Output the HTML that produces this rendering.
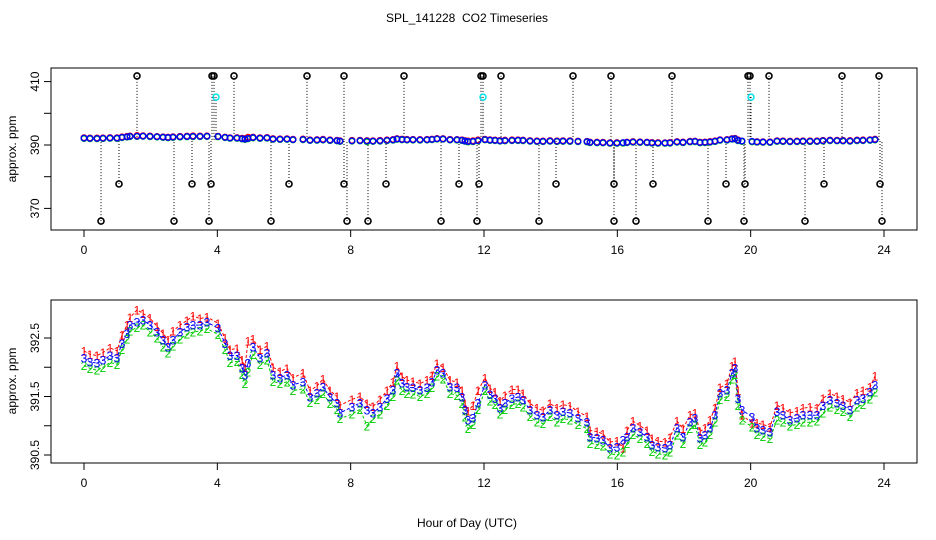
<!DOCTYPE html>
<html><head><meta charset="utf-8"><style>
html,body{margin:0;padding:0;background:#fff;}
svg{display:block;font-family:"Liberation Sans",sans-serif;}
</style></head><body>
<svg id="chart" width="936" height="540" viewBox="0 0 936 540">
<text x="467" y="22" font-size="12" text-anchor="middle">SPL_141228&#160; CO2 Timeseries</text>
<text x="467" y="527" font-size="12" text-anchor="middle">Hour of Day (UTC)</text>
<text transform="translate(16,149) rotate(-90)" font-size="12" text-anchor="middle">approx. ppm</text>
<text transform="translate(16,381) rotate(-90)" font-size="12" text-anchor="middle">approx. ppm</text>
<g id="top"></g>
<g id="bot"></g>
</svg>
<script>
const times=[0.0,0.18,0.39,0.57,0.78,0.99,1.14,1.29,1.38,1.59,1.77,1.98,2.19,2.37,2.52,2.67,2.88,3.09,3.27,3.48,3.69,4.02,4.23,4.38,4.59,4.74,4.83,4.92,5.07,5.28,5.49,5.67,5.88,6.09,6.27,6.57,6.78,6.99,7.17,7.38,7.59,
7.68,8.04,8.28,8.49,8.67,8.88,9.09,9.27,9.39,9.54,9.69,9.87,10.08,10.29,10.44,10.59,10.77,10.98,11.19,11.34,11.43,11.52,11.67,11.82,12.03,12.18,12.33,12.48,12.63,12.84,13.02,13.17,13.38,13.59,13.77,13.98,14.19,14.37,14.58,14.82,15.09,15.18,15.39,15.57,15.78,15.99,16.17,
16.29,16.47,16.68,16.89,17.04,17.22,17.43,17.58,17.79,17.97,18.18,18.33,18.48,18.63,18.78,18.93,19.08,19.29,19.44,19.53,19.62,19.74,20.04,20.19,20.37,20.58,20.79,20.97,21.18,21.39,21.57,21.78,21.99,22.17,22.38,22.59,22.77,22.98,23.19,23.37,23.58,23.73];
const series3=[392.16,392.09,392.07,392.12,392.2,392.16,392.41,392.58,392.72,392.77,392.81,392.72,392.6,392.47,392.35,392.47,392.6,392.69,392.72,392.72,392.77,392.67,392.41,392.2,392.2,391.99,391.87,392.07,392.35,392.16,392.24,391.87,391.82,391.87,391.7,391.75,391.49,391.56,391.66,391.49,391.39,
391.22,391.32,391.39,391.27,391.22,391.32,391.47,391.61,391.9,391.73,391.66,391.65,391.61,391.65,391.75,391.95,391.9,391.66,391.65,391.49,391.27,391.1,391.13,391.39,391.7,391.53,391.47,391.3,391.39,391.47,391.49,391.44,391.27,391.18,391.15,391.27,391.18,391.24,391.22,391.13,391.06,390.81,390.79,390.76,390.62,390.64,390.76,
390.81,390.96,390.89,390.81,390.67,390.64,390.62,390.67,390.96,390.81,391.06,391.13,390.79,390.84,390.96,391.18,391.56,391.61,391.9,391.99,391.47,391.27,391.15,390.96,390.93,390.89,391.24,391.18,391.1,391.13,391.18,391.18,391.18,391.35,391.44,391.39,391.35,391.27,391.44,391.47,391.58,391.7];
const series1=[392.28,392.22,392.2,392.25,392.33,392.28,392.55,392.72,392.85,392.98,392.92,392.84,392.7,392.58,392.47,392.62,392.72,392.8,392.88,392.83,392.86,392.75,392.5,392.3,392.32,392.12,392.0,392.45,392.48,392.3,392.36,392.0,391.93,391.98,391.82,391.9,391.6,391.68,391.8,391.6,391.5,
391.35,391.45,391.5,391.38,391.33,391.45,391.6,391.75,392.02,391.84,391.78,391.76,391.72,391.78,391.86,392.06,392.0,391.78,391.74,391.6,391.38,391.25,391.35,391.6,391.82,391.64,391.58,391.42,391.52,391.62,391.62,391.55,391.38,391.3,391.26,391.38,391.3,391.36,391.34,391.24,391.16,390.92,390.9,390.86,390.72,390.74,390.62,
390.92,391.08,391.0,390.92,390.78,390.74,390.72,390.8,391.08,390.95,391.18,391.22,390.9,390.96,391.1,391.3,391.65,391.72,392.02,392.1,391.6,391.18,391.05,391.05,391.02,390.98,391.35,391.3,391.22,391.25,391.3,391.32,391.3,391.47,391.55,391.5,391.46,391.4,391.56,391.6,391.66,391.85];
const series2=[392.03,391.98,391.95,392.0,392.08,392.05,392.3,392.48,392.62,392.68,392.72,392.6,392.5,392.35,392.24,392.36,392.48,392.57,392.6,392.62,392.66,392.56,392.3,392.08,392.1,391.88,391.72,391.92,392.22,392.05,392.12,391.76,391.72,391.75,391.6,391.63,391.4,391.45,391.55,391.38,391.28,
391.12,391.2,391.28,391.0,391.12,391.2,391.35,391.5,391.78,391.6,391.55,391.54,391.5,391.55,391.65,391.85,391.8,391.55,391.52,391.38,391.15,390.95,391.02,391.28,391.6,391.42,391.36,391.2,391.28,391.36,391.38,391.32,391.16,391.06,391.04,391.16,391.06,391.12,391.1,391.02,390.95,390.7,390.68,390.65,390.52,390.5,390.55,
390.7,390.85,390.78,390.7,390.56,390.52,390.5,390.55,390.84,390.7,390.95,391.02,390.68,390.72,390.85,391.06,391.45,391.5,391.8,391.88,391.35,391.1,390.98,390.85,390.82,390.78,391.1,391.06,391.0,391.02,391.06,391.06,391.08,391.22,391.32,391.28,391.24,391.16,391.32,391.36,391.46,391.58];
const outlierTimes=[1.59,3.84,3.9,4.5,6.69,7.8,9.6,11.91,11.97,12.51,14.67,15.81,17.64,19.92,19.98,20.55,22.74,23.85,
1.05,3.24,3.81,6.15,7.8,9.06,11.25,11.85,14.16,15.9,17.07,19.26,19.83,22.2,23.88,
0.51,2.7,3.75,5.61,7.89,8.52,10.71,11.79,13.65,15.9,16.56,18.72,19.8,21.63,23.94];
const outlierValues=[411.8,411.8,411.8,411.8,411.8,411.8,411.8,411.8,411.8,411.8,411.8,411.8,411.8,411.8,411.8,411.8,411.8,411.8,
377.7,377.7,377.7,377.7,377.7,377.7,377.7,377.7,377.7,377.7,377.7,377.7,377.7,377.7,377.7,
366.0,366.0,366.0,366.0,366.0,366.0,366.0,366.0,366.0,366.0,366.0,366.0,366.0,366.0,366.0];
const cyanTimes=[3.96,11.97,20.01];
const cyanValues=[405.1,405.1,405.1];
const xTicks=[0,4,8,12,16,20,24];
const topYTicks=[370,380,390,400,410];
const topYLabels=[370,390,410];
const botYTicks=[390.5,391,391.5,392,392.5];
const botYLabels=["390.5","391.5","392.5"];
const botYLabelVals=[390.5,391.5,392.5];

const NS="http://www.w3.org/2000/svg";
const L=51,R=917;
const xs=t=>84+t*(800/24);
const ysTop=v=>145-(v-390)*3.17;
const ysBot=v=>455-(v-390.5)*58.5;
function mk(parent,tag,attrs){const e=document.createElementNS(NS,tag);for(const k in attrs)e.setAttribute(k,attrs[k]);parent.appendChild(e);return e;}

function axes(g,top,bot,yTicks,yfun,labVals,labTxt,pfx){
  const box=mk(g,'rect',{x:L,y:top,width:R-L,height:bot-top,fill:'none',stroke:'#000','stroke-width':1});
  
  
  xTicks.forEach(t=>{
    const l=mk(g,'line',{x1:xs(t),x2:xs(t),y1:bot,y2:bot+7,stroke:'#000'});
    
    
    const tx=mk(g,'text',{x:xs(t),y:bot+24,'font-size':12,'text-anchor':'middle'});
    tx.textContent=t;
    
    
  });
  yTicks.forEach(v=>{
    const l=mk(g,'line',{x1:L-7,x2:L,y1:yfun(v),y2:yfun(v),stroke:'#000'});
    
    
  });
  labVals.forEach((v,i)=>{
    const tx=mk(g,'text',{transform:`translate(39,${yfun(v)}) rotate(-90)`,'font-size':12,'text-anchor':'middle'});
    tx.textContent=labTxt[i];
    
    
  });
}

const gt=document.getElementById('top');
axes(gt,68,230,topYTicks,ysTop,topYLabels,topYLabels.map(String),'top');
outlierTimes.forEach((t,i)=>{
  const l=mk(gt,'line',{x1:xs(t),x2:xs(t),y1:ysTop(outlierValues[i]),y2:ysTop(391.5),stroke:'#000','stroke-dasharray':'1,2'});
  
  
});
cyanTimes.forEach((t,i)=>{
  const l=mk(gt,'line',{x1:xs(t),x2:xs(t),y1:ysTop(cyanValues[i]),y2:ysTop(391.5),stroke:'#000','stroke-dasharray':'1,2'});
  
  
});
[[series1,'#ff0000','red'],[series2,'#00cc00','green'],[series3,'#0000ff','blue']].forEach(([s,c,n])=>{
  times.forEach((t,i)=>{
    const ci=mk(gt,'circle',{cx:xs(t),cy:ysTop(s[i]),r:2.8,fill:'none',stroke:c,'stroke-width':1.4});
    
    
  });
});
outlierTimes.forEach((t,i)=>{
  const ci=mk(gt,'circle',{cx:xs(t),cy:ysTop(outlierValues[i]),r:3,fill:'none',stroke:'#000','stroke-width':1.6});
  
  
});
cyanTimes.forEach((t,i)=>{
  const ci=mk(gt,'circle',{cx:xs(t),cy:ysTop(cyanValues[i]),r:3,fill:'none',stroke:'#00e5ee','stroke-width':1.5});
  
  
});

const gb=document.getElementById('bot');
axes(gb,300,463,botYTicks,ysBot,botYLabelVals,botYLabels,'bottom');
function poly(s,c,dash){
  let seg=[];
  const flush=()=>{if(seg.length>1){const p=mk(gb,'polyline',{points:seg.join(' '),fill:'none',stroke:c,'stroke-width':1,'stroke-dasharray':dash});
    
    }seg=[];};
  times.forEach((t,i)=>{if(i>0&&t-times[i-1]>0.4)flush();seg.push(xs(t)+','+ysBot(s[i]));});
  flush();
}
poly(series1,'#ff0000','3,2');poly(series2,'#00cc00','3,2');poly(series3,'#0000ff','3,2');
[[series1,'#ff0000','1'],[series2,'#00cc00','2'],[series3,'#0000ff','3']].forEach(([s,c,ch])=>{
  times.forEach((t,i)=>{
    const tx=mk(gb,'text',{x:xs(t),y:ysBot(s[i])+4.5,'font-size':12,'text-anchor':'middle',fill:c});
    tx.textContent=ch;
    
    
  });
});
</script>
</body></html>
